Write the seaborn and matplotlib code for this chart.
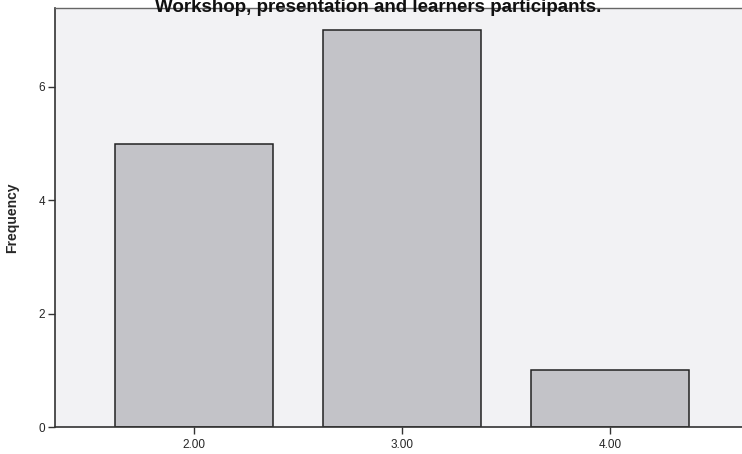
# SPSS風の度数棒グラフを再現するコード

import matplotlib

matplotlib.use("Agg")
import matplotlib.pyplot as plt
import pandas as pd
import seaborn as sns


# ======================== データ ========================
categories = ["2.00", "3.00", "4.00"]
frequencies = [5, 7, 1]
title_text = "Workshop, presentation and learners participants."
y_ticks = [0, 2, 4, 6]


# ======================== 描画 ========================
sns.set_theme(style="white")
plt.rcParams["font.family"] = ["Liberation Sans", "DejaVu Sans"]

df = pd.DataFrame({"value": categories, "Frequency": frequencies})

fig = plt.figure(figsize=(7.42, 4.54), dpi=100)
fig.patch.set_facecolor("white")
ax = fig.add_axes([55 / 742, 27 / 454, 700 / 742, 419 / 454])
ax.set_facecolor("#f2f2f4")

sns.barplot(
    data=df,
    x="value",
    y="Frequency",
    order=categories,
    color="#c3c3c8",
    edgecolor="#222222",
    linewidth=1.1,
    width=0.76,
    saturation=1,
    ax=ax,
)

ax.set_xlim(-0.668, 2.697)
ax.set_ylim(0, 7.39)
ax.set_yticks(y_ticks)
ax.set_yticklabels([str(t) for t in y_ticks])
ax.set_xlabel("")
ax.set_ylabel("Frequency", fontsize=10, fontweight="bold", labelpad=14)
ax.tick_params(axis="both", labelsize=8.5, length=5, width=1, color="#333333",
               bottom=True, left=True, pad=2)
ax.tick_params(axis="x", pad=4)

for side in ["left", "bottom"]:
    ax.spines[side].set_color("#333333")
    ax.spines[side].set_linewidth(1.2)
ax.spines["top"].set_color("#666666")
ax.spines["top"].set_linewidth(1.0)
ax.spines["right"].set_visible(False)

fig.text(
    378 / 742,
    1 - 12 / 454,
    title_text,
    ha="center",
    va="baseline",
    fontsize=13.5,
    fontweight="bold",
    color="#111111",
)

fig.savefig("out.png", dpi=100)
